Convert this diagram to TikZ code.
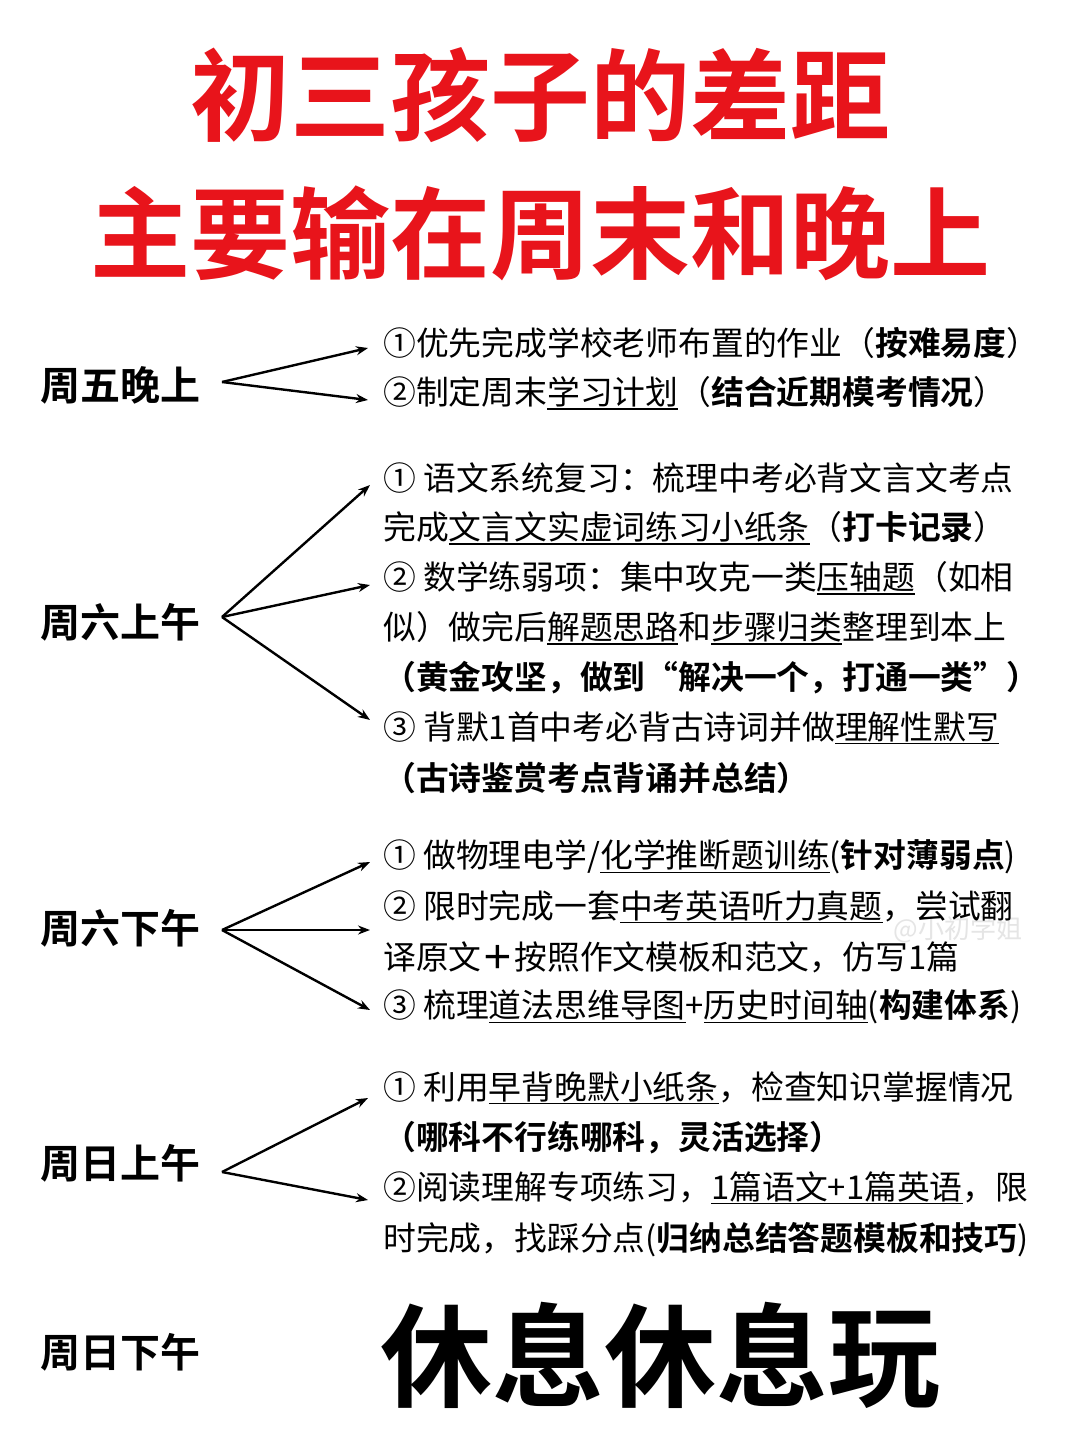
\documentclass[tikz,border=0pt]{standalone}
\usepackage{fontspec}
\usetikzlibrary{arrows.meta}
\setmainfont{Noto Sans CJK SC}[BoldFont=Noto Sans CJK SC Bold]
\definecolor{tred}{HTML}{E8141B}
\newcommand{\myul}[1]{\setbox0=\hbox{#1}\leavevmode\rlap{\rule[-5pt]{\wd0}{1.2pt}}\box0}
\begin{document}
\begin{tikzpicture}[x=1pt,y=-1pt,
 line/.style={anchor=west,inner sep=0pt,font=\fontsize{32.8}{33}\selectfont},
 lbl/.style={anchor=west,inner sep=0pt,font=\fontsize{40}{40}\selectfont\bfseries},
 arr/.style={-{Stealth[length=12pt,width=9pt]},line width=2.4pt}]
\useasboundingbox (0,0) rectangle (1080,1443);
\fill[white] (0,0) rectangle (1080,1443);
\node[inner sep=0pt,text=tred,font=\fontsize{100}{100}\selectfont\bfseries] (t1) at (540,95) {初三孩子的差距};
\node[inner sep=0pt,text=tred,font=\fontsize{100}{100}\selectfont\bfseries] (t2) at (540,233) {主要输在周末和晚上};
\node[inner sep=0pt,text=black!10,font=\fontsize{26}{26}\selectfont] (wm) at (958,930) {@小初学姐};
% Friday
\node[lbl] (f) at (40,385) {周五晚上};
\coordinate (fo) at (222,382);
\node[line] (f1) at (383,343) {①优先完成学校老师布置的作业（\textbf{按难易度}）};
\node[line] (f2) at (383,393) {②制定周末\myul{学习计划}（\textbf{结合近期模考情况}）};
\draw[arr] (fo) -- (368,348); \draw[arr] (fo) -- (368,400);
% Sat AM
\node[lbl] (sa) at (40,622) {周六上午};
\coordinate (sao) at (222,617);
\node[line] (sa1) at (383,478) {① 语文系统复习：梳理中考必背文言文考点};
\node[line] (sa2) at (383,528) {完成\myul{文言文实虚词练习小纸条}（\textbf{打卡记录}）};
\node[line] (sa3) at (383,578) {② 数学练弱项：集中攻克一类\myul{压轴题}（如相};
\node[line] (sa4) at (383,628) {似）做完后\myul{解题思路}和\myul{步骤归类}整理到本上};
\node[line] (sa5) at (383,678) {\textbf{（黄金攻坚，做到“解决一个，打通一类”）}};
\node[line] (sa6) at (383,728) {③ 背默1首中考必背古诗词并做\myul{理解性默写}};
\node[line] (sa7) at (383,778) {\textbf{（古诗鉴赏考点背诵并总结）}};
\draw[arr] (sao) -- (370,485); \draw[arr] (sao) -- (370,585); \draw[arr] (sao) -- (370,720);
% Sat PM
\node[lbl] (sp) at (40,928) {周六下午};
\coordinate (spo) at (222,930);
\node[line] (sp1) at (383,857) {① 做物理电学/\myul{化学推断题训练}(\textbf{针对薄弱点})};
\node[line] (sp2) at (383,907) {② 限时完成一套\myul{中考英语听力真题}，尝试翻};
\node[line] (sp3) at (383,957) {译原文\textbf{＋}按照作文模板和范文，仿写1篇};
\node[line] (sp4) at (383,1007) {③ 梳理\myul{道法思维导图}+\myul{历史时间轴}(\textbf{构建体系})};
\draw[arr] (spo) -- (370,862); \draw[arr] (spo) -- (370,930); \draw[arr] (spo) -- (370,1010);
% Sun AM
\node[lbl] (su) at (40,1163) {周日上午};
\coordinate (suo) at (222,1172);
\node[line] (su1) at (383,1088) {① 利用\myul{早背晚默小纸条}，检查知识掌握情况};
\node[line] (su2) at (383,1138) {\textbf{（哪科不行练哪科，灵活选择）}};
\node[line] (su3) at (383,1188) {②阅读理解专项练习，\myul{1篇语文+1篇英语}，限};
\node[line] (su4) at (383,1240) {时完成，找踩分点(\textbf{归纳总结答题模板和技巧})};
\draw[arr] (suo) -- (368,1098); \draw[arr] (suo) -- (368,1200);
% Sun PM
\node[lbl] (sp2l) at (40,1352) {周日下午};
\node[anchor=west,inner sep=0pt,font=\fontsize{112}{112}\selectfont\bfseries] (rest) at (380,1355) {休息休息玩};
\end{tikzpicture}
\end{document}
